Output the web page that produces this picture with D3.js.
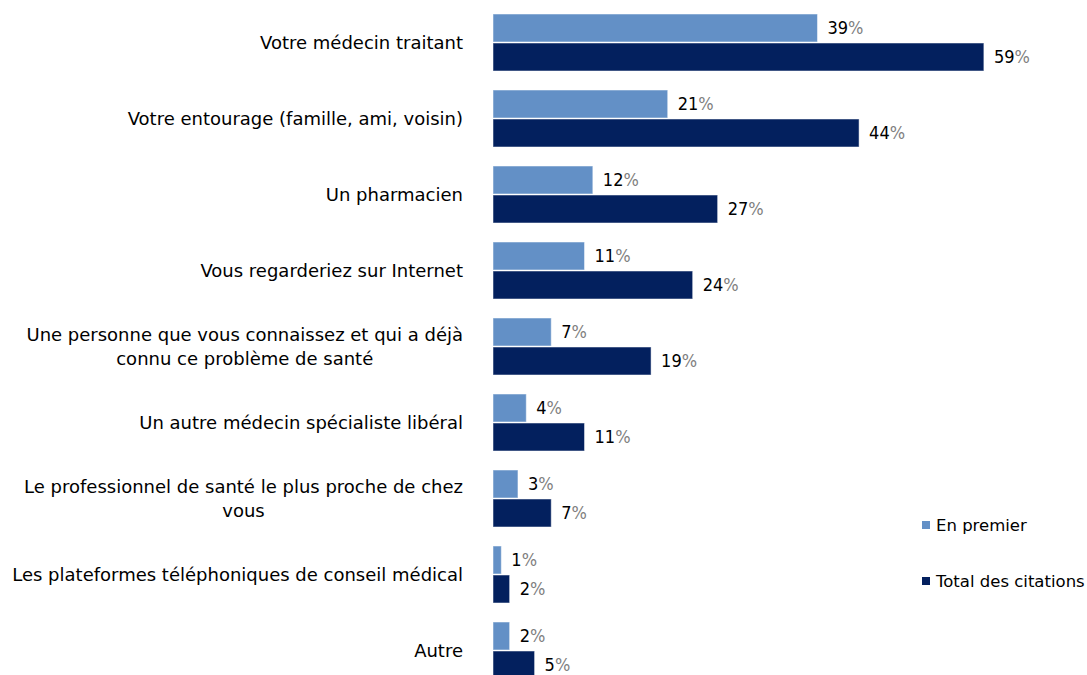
<!DOCTYPE html>
<html lang="fr">
<head>
<meta charset="UTF-8">
<title>Chart</title>
<script src="https://d3js.org/d3.v7.min.js"></script>
<style>
  body { margin: 0; background: #fff; }
  text { font-family: "DejaVu Sans", sans-serif; }
  text.val { font-family: "DejaVu Sans Condensed", "DejaVu Sans", sans-serif; }
</style>
</head>
<body>
<div id="chart"></div>
<script>

// categories, one entry per line of the label
const categories = [
    ["Votre médecin traitant"],
    ["Votre entourage (famille, ami, voisin)"],
    ["Un pharmacien"],
    ["Vous regarderiez sur Internet"],
    ["Une personne que vous connaissez et qui a déjà", "connu ce problème de santé"],
    ["Un autre médecin spécialiste libéral"],
    ["Le professionnel de santé le plus proche de chez", "vous"],
    ["Les plateformes téléphoniques de conseil médical"],
    ["Autre"]
];
const enPremier = [39, 21, 12, 11, 7, 4, 3, 1, 2];
const totalCitations = [59, 44, 27, 24, 19, 11, 7, 2, 5];
const seriesNames = ["En premier", "Total des citations"];
const seriesColors = ["#6390c6", "#03205e"];

const width = 1087, height = 675;
const labelRight = 463;

const svg = d3.select("#chart").append("svg")
    .attr("width", width)
    .attr("height", height);

const keys = categories.map((c, i) => i);

const y0 = d3.scaleBand()
    .domain(keys)
    .range([14, 14 + 9 * 76 - 19])
    .paddingInner(19 / 76)
    .paddingOuter(0);

const y1 = d3.scaleBand()
    .domain([0, 1])
    .range([0, y0.bandwidth()])
    .paddingInner(1 / 29);

const x = d3.scaleLinear()
    .domain([0, 100])
    .range([493, 493 + 832]);

const series = [enPremier, totalCitations];

const groups = svg.append("g")
    .selectAll("g")
    .data(keys)
    .join("g")
    .attr("transform", d => `translate(0,${y0(d)})`);

// bars
groups.selectAll("rect")
    .data(i => series.map((s, k) => ({k: k, v: s[i]})))
    .join("rect")
    .attr("x", x(0))
    .attr("y", d => y1(d.k))
    .attr("width", d => x(d.v) - x(0))
    .attr("height", y1.bandwidth())
    .attr("fill", d => seriesColors[d.k])
    .attr("stroke", "#ffffff")
    .attr("stroke-opacity", 0.5)
    .attr("stroke-width", 1);

// value labels
const vals = groups.selectAll("text.val")
    .data(i => series.map((s, k) => ({k: k, v: s[i]})))
    .join("text")
    .attr("class", "val")
    .attr("x", d => x(d.v) + 10)
    .attr("y", d => y1(d.k) + y1.bandwidth() / 2)
    .attr("dy", "0.35em")
    .attr("font-size", 18)
    .attr("fill", "#000");
vals.append("tspan").text(d => d.v);
vals.append("tspan").attr("fill", "#7f7f7f").text("%");

// category labels
groups.each(function(i) {
    const lines = categories[i];
    const g = d3.select(this);
    const mid = y0.bandwidth() / 2;
    const lh = 24;
    const t = g.selectAll("text.cat")
        .data(lines)
        .join("text")
        .attr("class", "cat")
        .attr("font-size", 18)
        .attr("fill", "#000")
        .attr("y", (d, j) => mid + (j - (lines.length - 1) / 2) * lh)
        .attr("dy", "0.35em")
        .text(d => d);
    if (lines.length === 1) {
        t.attr("x", labelRight).attr("text-anchor", "end");
    } else {
        let w = 0;
        t.each(function() { w = Math.max(w, this.getComputedTextLength()); });
        t.attr("x", labelRight - w / 2).attr("text-anchor", "middle");
    }
});

// legend
const legend = svg.append("g")
    .selectAll("g")
    .data(seriesNames)
    .join("g")
    .attr("transform", (d, k) => `translate(922,${525 + k * 56})`);

legend.append("rect")
    .attr("x", 0)
    .attr("y", -4)
    .attr("width", 8)
    .attr("height", 8)
    .attr("fill", (d, k) => seriesColors[k]);

legend.append("text")
    .attr("x", 14)
    .attr("dy", "0.35em")
    .attr("font-size", 16.5)
    .attr("fill", "#000")
    .text(d => d);

</script>
</body>
</html>
